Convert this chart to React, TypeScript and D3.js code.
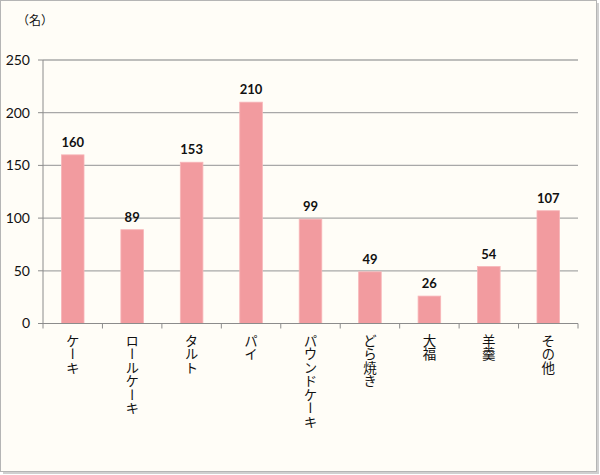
import React from "react";
import * as d3 from "d3";

const categories = ["ケーキ", "ロールケーキ", "タルト", "パイ", "パウンドケーキ", "どら焼き", "大福", "羊羹", "その他"];
const values = [160, 89, 153, 210, 99, 49, 26, 54, 107];
const yTicks = [0, 50, 100, 150, 200, 250];
const unitLabel = "（名）";

export default function App() {
  const W = 600, H = 475;
  const x0 = 43, x1 = 578, yTop = 60, yBot = 323.5;
  const x = d3.scaleBand<string>().domain(categories).range([x0, x1]).paddingInner(0.62).paddingOuter(0.31);
  const band = d3.scaleBand<string>().domain(categories).range([x0, x1]);
  const y = d3.scaleLinear().domain([0, 250]).range([yBot, yTop]);
  const numFont = "Lato, 'Open Sans', sans-serif";
  const jpFont = "'Noto Sans CJK JP', sans-serif";
  return (
    <div style={{ position: "absolute", left: 0, top: 0 }}>
      <svg width={W} height={H} style={{ display: "block" }}>
        <rect x={0} y={0} width={W} height={H} fill="#ffffff" />
        <rect x={3} y={3} width={596} height={471} fill="#d0d0d0" />
        <rect x={0.5} y={0.5} width={596} height={471} fill="#fffdf7" stroke="#b5b5b5" strokeWidth={1} />
        <text x={17} y={25} fontFamily={jpFont} fontSize={12} fill="#111">{unitLabel}</text>
        {yTicks.map((t) => (
          <g key={t}>
            {t > 0 && <line x1={x0} x2={x1} y1={y(t)} y2={y(t)} stroke="#a8a8a8" strokeWidth={1.3} />}
            <line x1={x0 - 5} x2={x0} y1={y(t)} y2={y(t)} stroke="#8c8c8c" strokeWidth={1} />
            <text x={30} y={y(t)} dy="0.35em" textAnchor="end" fontFamily={numFont} fontSize={14} fill="#111">{t}</text>
          </g>
        ))}
        <line x1={x0} x2={x0} y1={yTop} y2={yBot} stroke="#8c8c8c" strokeWidth={1} />
        {categories.map((c, i) => (
          <g key={c}>
            <rect x={x(c)} y={y(values[i])} width={x.bandwidth()} height={yBot - y(values[i])} fill="#f29b9f" stroke="#f7b5b8" strokeWidth={0.8} />
            <text x={(x(c) as number) + x.bandwidth() / 2} y={y(values[i]) - 8} textAnchor="middle" fontFamily={numFont} fontWeight="bold" fontSize={13} fill="#111">{values[i]}</text>
            <text x={(band(c) as number) + band.bandwidth() / 2} y={334} fontFamily={jpFont} fontSize={13.5} fill="#111" style={{ writingMode: "vertical-rl" }}>{c}</text>
          </g>
        ))}
        <line x1={x0} x2={x1} y1={yBot} y2={yBot} stroke="#8c8c8c" strokeWidth={1} />
        {categories.concat([""]).map((c, i) => {
          const xx = x0 + band.step() * i;
          return <line key={i} x1={xx} x2={xx} y1={yBot} y2={yBot + 5} stroke="#8c8c8c" strokeWidth={1} />;
        })}
      </svg>
    </div>
  );
}
